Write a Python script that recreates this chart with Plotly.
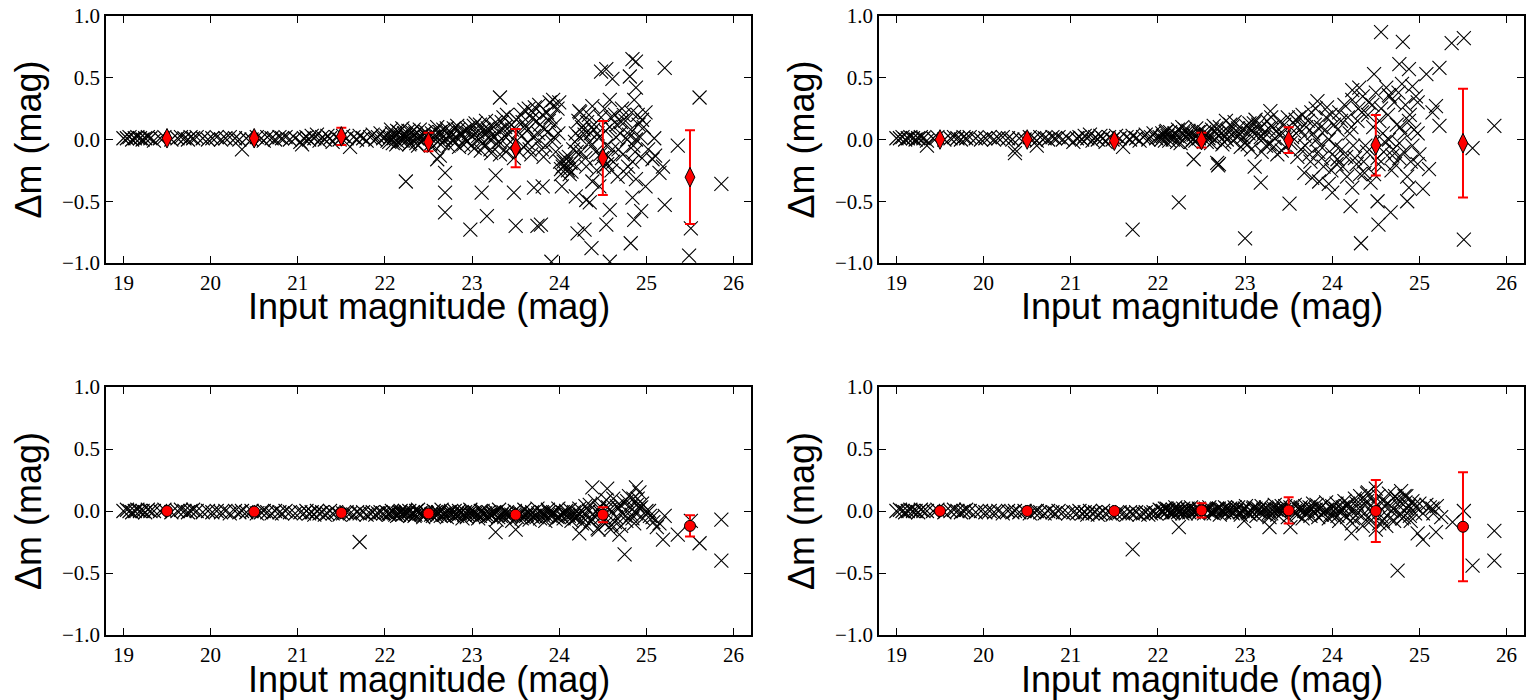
import plotly.graph_objects as go
from plotly.subplots import make_subplots

# Bright stars (19-22 mag), same input magnitudes in every panel
bright_mag = [19.00, 19.04, 19.07, 19.10, 19.13, 19.16, 19.19, 19.22, 19.25, 19.28, 19.31, 19.35,
              19.42, 19.47, 19.55, 19.62, 19.66, 19.70, 19.74, 19.77, 19.80, 19.84, 19.91, 19.97,
              20.02, 20.07, 20.12, 20.17, 20.22, 20.28, 20.33, 20.36, 20.41, 20.47, 20.53, 20.58,
              20.61, 20.65, 20.70, 20.74, 20.79, 20.82, 20.86, 20.91, 20.97,
              21.03, 21.07, 21.10, 21.13, 21.16, 21.19, 21.22, 21.25, 21.28, 21.31, 21.34, 21.37,
              21.40, 21.44, 21.48, 21.52, 21.56, 21.60, 21.64, 21.68, 21.71, 21.75, 21.79, 21.83,
              21.86, 21.89, 21.92, 21.95, 21.98]
bright_dm_top = [0.01, 0.01, 0.02, 0.00, 0.01, 0.02, 0.01, 0.00, 0.01, 0.02, 0.01, -0.01,
                 0.01, 0.02, 0.00, 0.01, 0.02, 0.01, 0.00, 0.02, 0.01, 0.02, 0.01, 0.00,
                 0.01, 0.02, 0.00, 0.01, 0.02, 0.01, 0.00, -0.08, 0.01, 0.00, 0.02, 0.01,
                 -0.01, 0.02, 0.01, 0.00, 0.02, 0.01, 0.02, 0.00, 0.01,
                 -0.02, 0.01, 0.02, 0.00, 0.03, 0.01, 0.04, -0.01, 0.02, 0.00, 0.03, 0.01,
                 -0.02, 0.02, 0.00, 0.03, 0.01, -0.06, 0.02, 0.00, 0.03, 0.01, -0.01, 0.02,
                 0.04, 0.00, 0.02, 0.05, 0.01]
bright_dm_bottom = [0.00, 0.01, 0.00, -0.01, 0.00, 0.01, 0.00, 0.00, -0.01, 0.01, 0.00, 0.00,
                    0.00, 0.01, -0.01, 0.00, 0.01, 0.00, -0.01, 0.00, 0.01, 0.00, -0.01, 0.00,
                    -0.01, 0.00, -0.01, 0.00, -0.02, 0.00, -0.01, 0.00, -0.01, 0.00, -0.02, -0.01,
                    0.00, -0.01, -0.02, 0.00, -0.01, -0.02, 0.00, -0.01, -0.02,
                    -0.01, -0.02, 0.00, -0.02, -0.01, -0.03, 0.00, -0.02, -0.01, -0.03, -0.02, 0.00,
                    -0.02, -0.01, -0.03, -0.02, -0.01, -0.02, -0.03, -0.01, -0.02, -0.01, -0.03, -0.02,
                    -0.01, -0.03, -0.02, -0.01, -0.02]

# Faint stars (input mag, delta m) per panel
faint_tl = [
    (22.02, 0.03), (22.05, -0.02), (22.08, 0.05), (22.10, 0.01), (22.13, -0.04), (22.16, 0.06),
    (22.18, 0.02), (22.21, -0.01), (22.24, 0.04), (22.27, 0.07), (22.29, -0.03), (22.32, 0.02),
    (22.35, 0.05), (22.38, -0.05), (22.41, 0.03), (22.44, 0.00), (22.47, 0.06), (22.52, -0.04),
    (22.55, 0.02), (22.58, 0.07), (22.61, -0.02), (22.64, 0.04), (22.67, 0.08), (22.70, 0.01),
    (22.73, -0.05), (22.76, 0.05), (22.79, 0.09), (22.82, 0.02), (22.85, -0.06), (22.88, 0.04),
    (22.91, 0.07), (22.94, -0.02), (22.97, 0.10), (23.00, 0.03), (23.03, -0.07), (23.06, 0.06),
    (23.09, 0.12), (23.12, -0.03), (23.15, 0.05), (23.18, 0.09), (23.21, -0.08), (23.24, 0.02),
    (23.27, 0.14), (23.30, -0.05), (23.33, 0.08), (23.36, 0.18), (23.39, -0.10), (23.42, 0.04),
    (23.45, 0.12), (23.48, -0.15), (23.53, 0.06), (23.56, 0.20), (23.59, -0.06), (23.62, 0.10),
    (23.65, 0.25), (23.68, -0.12), (23.71, 0.03), (23.74, 0.15), (23.77, 0.28), (23.80, -0.08),
    (23.83, 0.08), (23.86, 0.22), (23.89, 0.30), (23.92, -0.02), (23.95, 0.12), (23.98, 0.25),
    (24.01, -0.18), (24.04, -0.22), (24.07, -0.15), (24.10, -0.25), (24.13, -0.19), (24.16, -0.08),
    (24.19, 0.05), (24.22, 0.15), (24.25, -0.10), (24.28, 0.08), (24.31, -0.22), (24.34, 0.20),
    (24.37, -0.05), (24.40, 0.12), (24.43, -0.25), (24.46, 0.02), (24.49, -0.15), (24.52, 0.25),
    (24.55, -0.20), (24.58, 0.10), (24.61, -0.08), (24.64, 0.20), (24.67, -0.30), (24.70, 0.05),
    (24.73, -0.12), (24.76, 0.15), (24.79, -0.22), (24.82, 0.08), (24.85, -0.05), (24.88, -0.32),
    (24.91, 0.12), (24.95, -0.15),
    (22.03, -0.01), (22.07, 0.08), (22.12, 0.04), (22.15, -0.02), (22.20, 0.09), (22.26, 0.00),
    (22.31, 0.06), (22.36, -0.03), (22.40, 0.08), (22.46, 0.02), (22.54, 0.05), (22.60, 0.10),
    (22.66, -0.03), (22.72, 0.06), (22.78, 0.00), (22.84, 0.08), (22.90, -0.04), (22.96, 0.05),
    (23.02, 0.11), (23.08, 0.00), (23.14, -0.05), (23.20, 0.07), (23.26, 0.02), (23.32, -0.12),
    (23.38, 0.10), (23.44, -0.02), (23.58, 0.14), (23.64, -0.03), (23.70, 0.22), (23.76, 0.05),
    (23.82, -0.14), (23.88, 0.15), (23.94, 0.02), (24.08, -0.20), (24.12, -0.28), (24.18, -0.02),
    (24.24, 0.22), (24.30, -0.15), (24.36, 0.05), (24.42, -0.10), (24.48, 0.18), (24.54, -0.05),
    (24.60, -0.25), (24.66, 0.12), (24.72, 0.25), (24.78, 0.00), (24.84, -0.18), (24.90, 0.20),
    (22.24, -0.34), (22.69, -0.27), (22.69, -0.43), (22.69, -0.59), (22.63, -0.13), (23.11, -0.43),
    (22.98, -0.73), (23.17, -0.62), (23.32, 0.34), (23.27, -0.29), (23.48, -0.43), (23.50, -0.70),
    (23.71, -0.39), (23.81, -0.38), (23.75, -0.70), (23.79, -0.69), (23.91, -0.99), (24.03, -0.38),
    (24.19, -0.46), (24.31, -0.49), (24.35, -0.51), (24.21, -0.76), (24.29, -0.73), (24.37, -0.88),
    (24.48, 0.55), (24.54, 0.57), (24.61, 0.49), (24.84, 0.65), (24.88, 0.63), (24.81, 0.51),
    (24.88, 0.42), (24.86, 0.32), (25.21, 0.58), (25.61, 0.34), (25.86, -0.36), (25.49, -0.94),
    (25.51, -0.72), (25.36, -0.05), (25.09, 0.01), (25.19, -0.22), (25.21, -0.53), (25.07, -0.16),
    (25.15, -0.27), (24.99, -0.38), (24.94, -0.58), (24.84, -0.47), (24.86, -0.65), (24.82, -0.84),
    (24.58, -0.57), (24.54, -0.69), (24.58, -0.99), (24.02, -0.28), (23.93, 0.32), (24.00, 0.30),
    (24.23, 0.23), (24.38, 0.27), (24.58, 0.32), (24.99, 0.22), (24.95, 0.16), (24.88, 0.00),
    (25.10, -0.13), (24.38, -0.34), (24.46, -0.38), (21.05, -0.04), (22.60, -0.16),
]
dense_tl = [
    (22.06, 0.02), (22.09, -0.03), (22.14, 0.07), (22.19, -0.01), (22.22, 0.05), (22.25, 0.02),
    (22.28, -0.04), (22.33, 0.08), (22.37, 0.01), (22.42, -0.02), (22.45, 0.05), (22.50, 0.03),
    (22.56, -0.05), (22.59, 0.03), (22.63, 0.06), (22.68, -0.01), (22.71, 0.09), (22.75, 0.02),
    (22.80, -0.03), (22.83, 0.11), (22.87, 0.05), (22.92, 0.00), (22.95, 0.08), (22.99, -0.05),
    (23.04, 0.13), (23.07, 0.03), (23.10, -0.09), (23.13, 0.08), (23.16, 0.15), (23.19, 0.01),
    (23.22, -0.11), (23.25, 0.10), (23.28, 0.05), (23.31, -0.02), (23.34, 0.14), (23.37, 0.03),
    (23.40, 0.20), (23.43, -0.07), (23.46, 0.08), (23.51, 0.16), (23.54, -0.10), (23.57, 0.03),
    (23.60, 0.24), (23.63, 0.07), (23.66, -0.08), (23.69, 0.17), (23.72, 0.26), (23.75, -0.02),
    (23.78, 0.12), (23.81, 0.20), (23.84, -0.05), (23.87, 0.06), (23.90, 0.18), (23.93, 0.27),
    (23.96, -0.10), (23.99, 0.05), (24.02, -0.24), (24.05, -0.18), (24.09, -0.23), (24.11, -0.14),
    (24.14, -0.26), (24.17, -0.20), (24.20, -0.10), (24.23, 0.02), (24.26, 0.10), (24.29, 0.04),
    (24.32, 0.14), (24.35, -0.02), (24.39, 0.08), (24.44, 0.05), (24.47, -0.12), (24.51, -0.22),
    (24.53, 0.07), (24.56, -0.14), (24.59, 0.18), (24.62, -0.18), (24.65, 0.02), (24.68, -0.08),
    (24.71, 0.14), (24.74, 0.20), (24.77, -0.28), (24.80, 0.04), (24.83, 0.22), (24.87, -0.10),
    (24.93, 0.02), (24.97, 0.10), (25.02, -0.08),
]

faint_tr = [
    (22.02, 0.02), (22.05, 0.05), (22.08, -0.01), (22.11, 0.03), (22.14, 0.06), (22.17, 0.00),
    (22.20, 0.04), (22.23, 0.08), (22.26, -0.03), (22.29, 0.05), (22.32, 0.02), (22.35, 0.07),
    (22.38, -0.02), (22.41, 0.04), (22.44, 0.09), (22.47, 0.01), (22.53, 0.06), (22.56, -0.02),
    (22.59, 0.03), (22.62, 0.08), (22.65, 0.00), (22.68, 0.05), (22.71, 0.10), (22.74, -0.04),
    (22.77, 0.03), (22.80, 0.07), (22.83, 0.12), (22.86, -0.01), (22.89, 0.05), (22.92, 0.09),
    (22.95, -0.06), (22.98, 0.02), (23.01, 0.11), (23.04, 0.05), (23.07, -0.08), (23.10, 0.13),
    (23.13, 0.03), (23.16, 0.08), (23.19, -0.10), (23.22, 0.06), (23.25, 0.15), (23.28, -0.04),
    (23.31, 0.10), (23.34, 0.01), (23.37, -0.12), (23.40, 0.14), (23.43, 0.05), (23.46, -0.06),
    (23.49, 0.18), (23.54, 0.02), (23.57, 0.12), (23.60, -0.14), (23.63, 0.08), (23.66, 0.20),
    (23.69, -0.05), (23.72, 0.15), (23.75, -0.18), (23.78, 0.05), (23.81, 0.25), (23.84, -0.10),
    (23.87, 0.10), (23.90, -0.22), (23.93, 0.18), (23.96, 0.00), (23.99, -0.25), (24.02, 0.12),
    (24.05, -0.20), (24.08, 0.22), (24.11, -0.08), (24.14, 0.28), (24.17, -0.30), (24.20, 0.05),
    (24.23, 0.32), (24.26, -0.15), (24.29, 0.15), (24.32, -0.28), (24.35, 0.35), (24.38, -0.05),
    (24.41, 0.20), (24.44, -0.35), (24.47, 0.10), (24.50, 0.38), (24.53, -0.20), (24.56, 0.25),
    (24.59, -0.10), (24.62, 0.42), (24.65, 0.00), (24.68, -0.25), (24.71, 0.30), (24.74, 0.12),
    (24.77, -0.15), (24.80, 0.45), (24.83, 0.05), (24.86, -0.30), (24.89, 0.20), (24.92, -0.05),
    (24.96, 0.35), (25.00, -0.12),
    (22.04, 0.00), (22.10, 0.07), (22.16, 0.03), (22.22, -0.02), (22.28, 0.10), (22.34, 0.04),
    (22.40, 0.00), (22.46, 0.06), (22.58, 0.01), (22.64, 0.11), (22.70, 0.03), (22.76, -0.02),
    (22.82, 0.06), (22.88, 0.14), (22.94, 0.04), (23.00, -0.03), (23.06, 0.09), (23.12, 0.16),
    (23.18, 0.02), (23.24, -0.05), (23.30, 0.18), (23.36, 0.07), (23.42, -0.09), (23.58, 0.16),
    (23.64, -0.08), (23.70, 0.10), (23.76, 0.22), (23.82, 0.00), (23.88, -0.15), (23.94, 0.26),
    (24.00, -0.12), (24.06, 0.08), (24.12, -0.22), (24.18, 0.18), (24.24, -0.05), (24.30, 0.25),
    (24.36, -0.18), (24.42, 0.30), (24.48, -0.28), (24.54, 0.15), (24.60, -0.02), (24.66, 0.35),
    (24.72, -0.20), (24.78, 0.10), (24.84, 0.28), (24.90, -0.18), (24.94, 0.08),
    (24.56, 0.87), (24.81, 0.79), (25.37, 0.78), (25.51, 0.82), (25.23, 0.58), (25.08, 0.53),
    (24.77, 0.61), (24.88, 0.57), (24.48, 0.53), (25.86, 0.11), (25.61, -0.07), (25.51, -0.81),
    (24.33, -0.84), (24.53, -0.69), (24.67, -0.59), (24.52, -0.50), (24.21, -0.54), (24.86, -0.50),
    (25.04, -0.40), (25.11, -0.24), (24.98, -0.20), (24.88, -0.39), (23.00, -0.80), (23.51, -0.52),
    (23.18, -0.35), (23.11, -0.22), (22.70, -0.20), (22.41, -0.16), (25.23, 0.11), (25.19, 0.27),
    (25.15, 0.22), (24.98, 0.30), (24.92, 0.43), (24.65, 0.36), (24.23, 0.40), (24.31, 0.42),
    (23.83, 0.31), (23.29, 0.23), (23.05, 0.13), (22.78, 0.15), (24.00, -0.43), (23.85, -0.34),
    (23.77, -0.31), (23.68, -0.27), (23.96, -0.36), (24.23, -0.39), (24.37, -0.27), (24.06, -0.16),
    (24.69, -0.13), (24.77, -0.03), (21.71, -0.73), (22.24, -0.51), (19.35, -0.05), (20.61, -0.05),
    (20.36, -0.11), (22.68, -0.19), (22.69, -0.21),
]
dense_tr = [
    (22.06, 0.03), (22.09, 0.06), (22.13, -0.01), (22.19, 0.05), (22.25, 0.02), (22.31, 0.08),
    (22.37, 0.03), (22.43, -0.01), (22.49, 0.07), (22.55, 0.04), (22.61, -0.03), (22.67, 0.09),
    (22.73, 0.05), (22.79, 0.00), (22.85, 0.10), (22.91, 0.02), (22.97, 0.08), (23.03, -0.04),
    (23.09, 0.06), (23.15, 0.12), (23.21, 0.01), (23.27, 0.09), (23.33, -0.06), (23.39, 0.04),
    (23.45, 0.12), (23.52, -0.03), (23.56, 0.07), (23.62, 0.18), (23.68, 0.03), (23.74, -0.12),
    (23.80, 0.12), (23.86, -0.05), (23.92, 0.08), (23.98, 0.20), (24.04, -0.05), (24.10, 0.15),
    (24.16, -0.14), (24.22, 0.10), (24.28, -0.20), (24.34, 0.22), (24.40, -0.10), (24.46, 0.28),
    (24.52, -0.15), (24.58, 0.05), (24.64, 0.20), (24.70, -0.08), (24.76, 0.38), (24.82, -0.10),
    (24.88, 0.15), (24.98, 0.05),
]

faint_bl = [
    (22.02, -0.01), (22.05, -0.03), (22.08, 0.00), (22.11, -0.02), (22.14, -0.04), (22.17, -0.01),
    (22.20, -0.03), (22.23, 0.00), (22.26, -0.02), (22.29, -0.04), (22.32, -0.01), (22.35, -0.03),
    (22.38, 0.01), (22.41, -0.02), (22.44, -0.05), (22.47, -0.01), (22.53, -0.03), (22.56, 0.00),
    (22.59, -0.04), (22.62, -0.02), (22.65, 0.01), (22.68, -0.03), (22.71, -0.05), (22.74, -0.01),
    (22.77, -0.03), (22.80, 0.00), (22.83, -0.04), (22.86, -0.02), (22.89, -0.06), (22.92, -0.01),
    (22.95, -0.03), (22.98, 0.01), (23.01, -0.04), (23.04, -0.02), (23.07, -0.06), (23.10, 0.00),
    (23.13, -0.03), (23.16, -0.05), (23.19, -0.01), (23.22, -0.04), (23.25, -0.02), (23.28, -0.07),
    (23.31, 0.01), (23.34, -0.03), (23.37, -0.05), (23.40, -0.01), (23.43, -0.04), (23.46, -0.08),
    (23.49, 0.00), (23.54, -0.02), (23.57, -0.06), (23.60, 0.01), (23.63, -0.03), (23.66, -0.07),
    (23.69, -0.01), (23.72, -0.04), (23.75, 0.02), (23.78, -0.06), (23.81, -0.02), (23.84, -0.08),
    (23.87, 0.01), (23.90, -0.04), (23.93, -0.01), (23.96, -0.07), (23.99, 0.02), (24.02, -0.03),
    (24.05, -0.06), (24.08, 0.00), (24.11, -0.04), (24.14, -0.08), (24.17, -0.01), (24.20, -0.05),
    (24.23, 0.02), (24.26, -0.10), (24.29, -0.02), (24.32, -0.12), (24.35, 0.05), (24.38, -0.07),
    (24.41, 0.08), (24.44, -0.14), (24.47, -0.01), (24.50, 0.06), (24.53, -0.10), (24.56, 0.03),
    (24.59, -0.15), (24.62, 0.10), (24.65, -0.05), (24.68, 0.02), (24.71, -0.12), (24.74, 0.07),
    (24.77, -0.08), (24.80, 0.12), (24.83, -0.03), (24.86, -0.10), (24.89, 0.05), (24.92, 0.02),
    (24.96, -0.06), (25.00, 0.00), (25.04, -0.04), (25.08, -0.09),
    (22.04, -0.02), (22.10, -0.01), (22.16, -0.03), (22.22, -0.02), (22.28, 0.00), (22.34, -0.04),
    (22.40, -0.02), (22.46, -0.03), (22.58, -0.01), (22.64, -0.04), (22.70, -0.02), (22.76, 0.00),
    (22.82, -0.03), (22.88, -0.01), (22.94, -0.05), (23.00, -0.02), (23.06, -0.03), (23.12, 0.00),
    (23.18, -0.04), (23.24, -0.02), (23.30, -0.05), (23.36, -0.01), (23.42, -0.03), (23.58, -0.04),
    (23.64, -0.01), (23.70, -0.05), (23.76, -0.02), (23.82, -0.04), (23.88, -0.01), (23.94, -0.03),
    (24.00, -0.05), (24.06, -0.02), (24.12, 0.01), (24.18, -0.06), (24.24, -0.03), (24.30, 0.04),
    (24.36, -0.08), (24.42, 0.00), (24.48, -0.05), (24.54, 0.09), (24.60, -0.11), (24.66, 0.04),
    (24.72, -0.02), (24.78, 0.08), (24.84, -0.06), (24.90, 0.10), (24.94, 0.03),
    (25.86, -0.40), (25.86, -0.07), (25.61, -0.26), (25.36, -0.19), (25.19, -0.23), (24.75, -0.35),
    (24.38, 0.19), (24.55, 0.18), (24.88, 0.19), (24.92, 0.15), (23.27, -0.17), (23.50, -0.15),
    (24.23, -0.18), (24.69, -0.19), (25.12, -0.13), (25.21, -0.04), (25.07, -0.05), (21.71, -0.25),
    (25.15, -0.10), (25.51, -0.08), (24.45, -0.15), (24.85, 0.10), (25.03, 0.00),
]
dense_bl = [
    (22.06, -0.02), (22.12, -0.03), (22.18, 0.00), (22.24, -0.02), (22.30, -0.03), (22.36, 0.00),
    (22.42, -0.03), (22.48, -0.02), (22.55, -0.04), (22.61, -0.01), (22.67, -0.03), (22.73, -0.02),
    (22.79, -0.04), (22.85, 0.00), (22.91, -0.03), (22.97, -0.02), (23.03, -0.01), (23.09, -0.04),
    (23.15, -0.02), (23.21, -0.03), (23.27, -0.01), (23.33, -0.04), (23.39, -0.02), (23.45, -0.03),
    (23.52, -0.05), (23.56, -0.02), (23.62, -0.04), (23.68, -0.03), (23.74, -0.05), (23.80, -0.01),
    (23.86, -0.04), (23.92, -0.02), (23.98, -0.05), (24.04, -0.01), (24.10, -0.03), (24.16, -0.04),
    (24.22, -0.02), (24.28, -0.06), (24.34, 0.00), (24.40, -0.04), (24.46, 0.02), (24.52, -0.07),
    (24.58, 0.01), (24.64, -0.09), (24.70, 0.05), (24.76, -0.04), (24.82, 0.03), (24.88, -0.02),
    (24.95, 0.06),
]

faint_br = [
    (22.02, 0.01), (22.05, -0.01), (22.08, 0.02), (22.11, 0.00), (22.14, -0.02), (22.17, 0.01),
    (22.20, 0.03), (22.23, -0.01), (22.26, 0.00), (22.29, 0.02), (22.32, -0.02), (22.35, 0.01),
    (22.38, 0.03), (22.41, -0.01), (22.44, 0.00), (22.47, 0.02), (22.53, -0.02), (22.56, 0.01),
    (22.59, 0.03), (22.62, -0.01), (22.65, 0.00), (22.68, 0.02), (22.71, -0.03), (22.74, 0.01),
    (22.77, 0.03), (22.80, -0.01), (22.83, 0.02), (22.86, -0.02), (22.89, 0.00), (22.92, 0.03),
    (22.95, -0.03), (22.98, 0.01), (23.01, 0.04), (23.04, -0.02), (23.07, 0.00), (23.10, 0.03),
    (23.13, -0.04), (23.16, 0.01), (23.19, 0.04), (23.22, -0.02), (23.25, 0.02), (23.28, -0.05),
    (23.31, 0.01), (23.34, 0.05), (23.37, -0.03), (23.40, 0.02), (23.43, -0.01), (23.46, 0.04),
    (23.49, -0.05), (23.54, 0.01), (23.57, 0.05), (23.60, -0.03), (23.63, 0.02), (23.66, -0.06),
    (23.69, 0.04), (23.72, 0.00), (23.75, -0.04), (23.78, 0.06), (23.81, 0.01), (23.84, -0.05),
    (23.87, 0.03), (23.90, -0.02), (23.93, 0.07), (23.96, -0.06), (23.99, 0.02), (24.02, -0.03),
    (24.05, 0.06), (24.08, -0.08), (24.11, 0.01), (24.14, 0.08), (24.17, -0.05), (24.20, 0.03),
    (24.23, -0.10), (24.26, 0.10), (24.29, -0.02), (24.32, 0.12), (24.35, -0.12), (24.38, 0.05),
    (24.41, 0.15), (24.44, -0.08), (24.47, 0.02), (24.50, -0.15), (24.53, 0.12), (24.56, -0.04),
    (24.59, 0.08), (24.62, -0.12), (24.65, 0.14), (24.68, 0.00), (24.71, -0.08), (24.74, 0.10),
    (24.77, 0.04), (24.80, -0.06), (24.83, 0.12), (24.86, 0.02), (24.89, -0.04), (24.92, 0.08),
    (24.96, 0.03), (25.00, 0.06), (25.04, -0.02), (25.08, 0.05), (25.12, 0.03), (25.16, -0.02),
    (25.20, 0.04),
    (22.04, 0.00), (22.10, 0.02), (22.16, -0.01), (22.22, 0.01), (22.28, -0.02), (22.34, 0.02),
    (22.40, 0.00), (22.46, -0.02), (22.58, 0.01), (22.64, -0.02), (22.70, 0.02), (22.76, -0.01),
    (22.82, 0.01), (22.88, 0.03), (22.94, -0.01), (23.00, 0.02), (23.06, -0.03), (23.12, 0.02),
    (23.18, -0.01), (23.24, 0.03), (23.30, -0.02), (23.36, 0.01), (23.42, 0.04), (23.58, -0.02),
    (23.64, 0.03), (23.70, -0.03), (23.76, 0.02), (23.82, 0.05), (23.88, -0.03), (23.94, 0.01),
    (24.00, 0.04), (24.06, -0.04), (24.12, 0.03), (24.18, 0.06), (24.24, -0.06), (24.30, 0.02),
    (24.36, 0.09), (24.42, -0.05), (24.48, 0.07), (24.54, -0.10), (24.60, 0.04), (24.66, -0.06),
    (24.72, 0.12), (24.78, -0.02), (24.84, 0.07), (24.90, -0.08), (24.94, 0.05),
    (25.86, -0.16), (25.86, -0.40), (25.61, -0.44), (24.75, -0.48), (25.04, -0.23), (24.98, -0.18),
    (25.19, -0.17), (25.38, -0.09), (25.51, 0.00), (24.22, -0.18), (23.28, -0.13), (23.52, -0.13),
    (22.99, -0.08), (24.50, 0.18), (24.79, 0.16), (21.71, -0.31), (22.24, -0.13), (25.15, 0.02),
    (25.25, -0.05), (24.40, 0.14), (24.85, 0.12),
]
dense_br = [
    (22.06, 0.00), (22.12, 0.01), (22.18, -0.01), (22.24, 0.02), (22.30, 0.00), (22.36, -0.01),
    (22.42, 0.01), (22.48, 0.00), (22.55, 0.02), (22.61, -0.01), (22.67, 0.01), (22.73, 0.00),
    (22.79, 0.02), (22.85, -0.01), (22.91, 0.01), (22.97, 0.00), (23.03, -0.01), (23.09, 0.02),
    (23.15, 0.00), (23.21, 0.01), (23.27, -0.02), (23.33, 0.02), (23.39, 0.00), (23.45, 0.01),
    (23.52, 0.03), (23.56, -0.01), (23.62, 0.01), (23.68, 0.00), (23.74, 0.03), (23.80, -0.02),
    (23.86, 0.02), (23.92, 0.00), (23.98, -0.03), (24.04, 0.02), (24.10, -0.01), (24.16, 0.04),
    (24.22, 0.00), (24.28, 0.06), (24.34, -0.04), (24.40, 0.08), (24.46, -0.02), (24.52, 0.05),
    (24.58, -0.08), (24.64, 0.06), (24.70, 0.02), (24.76, 0.09), (24.82, -0.05), (24.88, 0.04),
    (24.95, -0.02),
]

# Binned mean offsets with scatter
bin_mag = [19.5, 20.5, 21.5, 22.5, 23.5, 24.5, 25.5]
mean_tl = [0.01, 0.01, 0.025, -0.02, -0.07, -0.15, -0.305]
err_tl = [0.005, 0.01, 0.07, 0.075, 0.155, 0.30, 0.38]
mean_tr = [0.0, 0.0, -0.01, -0.005, -0.005, -0.046, -0.03]
err_tr = [0.005, 0.01, 0.02, 0.06, 0.105, 0.245, 0.44]
mean_bl = [0.0, -0.005, -0.015, -0.02, -0.03, -0.03, -0.12]
err_bl = [0.003, 0.005, 0.008, 0.012, 0.02, 0.06, 0.085]
mean_br = [0.0, 0.0, 0.0, 0.005, 0.005, 0.0, -0.127]
err_br = [0.003, 0.005, 0.01, 0.058, 0.105, 0.25, 0.44]

panels = [
    (1, 1, bright_dm_top, faint_tl + dense_tl, mean_tl, err_tl, "diamond-tall", 14),
    (1, 2, bright_dm_top, faint_tr + dense_tr, mean_tr, err_tr, "diamond-tall", 14),
    (2, 1, bright_dm_bottom, faint_bl + dense_bl, mean_bl, err_bl, "circle", 11),
    (2, 2, bright_dm_bottom, faint_br + dense_br, mean_br, err_br, "circle", 11),
]

fig = make_subplots(rows=2, cols=2)

for row, col, bright_dm, faint, mean, err, sym, msize in panels:
    xs = bright_mag + [p[0] for p in faint]
    ys = bright_dm + [p[1] for p in faint]
    fig.add_trace(go.Scatter(
        x=xs, y=ys, mode="markers",
        marker=dict(symbol="x-thin", size=14, color="black",
                    line=dict(color="black", width=1.1)),
        showlegend=False, hoverinfo="x+y"
    ), row=row, col=col)
    fig.add_trace(go.Scatter(
        x=bin_mag, y=mean, mode="markers",
        marker=dict(symbol=sym, size=msize, color="#ff0000",
                    line=dict(color="black", width=1)),
        error_y=dict(type="data", array=err, color="#ff0000", thickness=2, width=5),
        showlegend=False
    ), row=row, col=col)

tick_font = dict(family="Liberation Serif, DejaVu Serif, serif", size=21, color="black")
title_font = dict(family="Liberation Sans, Arial, sans-serif", size=36, color="black")

axis_common = dict(
    showline=True, linecolor="black", linewidth=1.5, mirror="ticks",
    ticks="inside", ticklen=7, tickwidth=1, tickcolor="black",
    showgrid=False, zeroline=False, tickfont=tick_font, automargin=False
)

x_domains = [[106 / 1526, 751 / 1526], [879 / 1526, 1524 / 1526]]
y_domains = [[437 / 700, 684 / 700], [65 / 700, 313 / 700]]

for i, (row, col) in enumerate([(1, 1), (1, 2), (2, 1), (2, 2)]):
    sfx = "" if i == 0 else str(i + 1)
    fig.layout["xaxis" + sfx].update(
        domain=x_domains[col - 1], range=[18.8, 26.2], dtick=1, tick0=19, **axis_common
    )
    fig.layout["yaxis" + sfx].update(
        domain=y_domains[row - 1], range=[-1, 1], dtick=0.5, tick0=-1,
        tickformat=".1f", **axis_common
    )

# axis titles as annotations, placed just under the tick labels
title_x_pos = [sum(d) / 2 for d in x_domains]
title_y_pos = [1 - 306 / 700, 1 - 679 / 700]
ylab_x_pos = [28 / 1526, 801 / 1526]
ylab_y_pos = [sum(d) / 2 for d in y_domains]
for r in range(2):
    for c in range(2):
        fig.add_annotation(text="Input magnitude (mag)", xref="paper", yref="paper",
                           x=title_x_pos[c], y=title_y_pos[r], xanchor="center",
                           yanchor="middle", showarrow=False, font=title_font, borderpad=0)
        fig.add_annotation(text="Δm (mag)", xref="paper", yref="paper",
                           x=ylab_x_pos[c], y=ylab_y_pos[r], xanchor="center",
                           yanchor="middle", textangle=-90, showarrow=False, font=title_font)

fig.update_layout(
    width=1526, height=700,
    margin=dict(l=0, r=0, t=0, b=0),
    plot_bgcolor="white", paper_bgcolor="white",
    showlegend=False
)

# the page body has a default margin; drop it so the figure fills the window
fig.write_html("out.html", config={"displayModeBar": False},
               post_script="document.body.style.margin='0';")
